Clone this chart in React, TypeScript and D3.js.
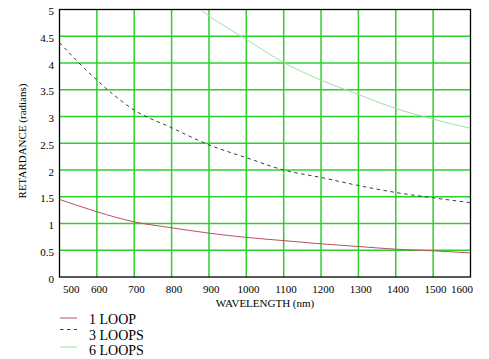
import React from "react";
import * as d3 from "d3";

const wavelengths = [500, 600, 700, 800, 900, 1000, 1100, 1200, 1300, 1400, 1500, 1600];
const loop1 = [1.45, 1.22, 1.03, 0.92, 0.82, 0.74, 0.68, 0.62, 0.57, 0.52, 0.49, 0.45];
const loop3 = [4.38, 3.68, 3.12, 2.79, 2.47, 2.23, 2.0, 1.86, 1.71, 1.58, 1.48, 1.39];
const wavelengths6 = [880, 900, 1000, 1100, 1200, 1300, 1400, 1500, 1600];
const loop6 = [4.98, 4.88, 4.44, 4.01, 3.68, 3.41, 3.15, 2.95, 2.78];

const xTicks = [500, 600, 700, 800, 900, 1000, 1100, 1200, 1300, 1400, 1500, 1600];
const yTicks = [0, 0.5, 1, 1.5, 2, 2.5, 3, 3.5, 4, 4.5, 5];
const legendLabels = ["1 LOOP", "3 LOOPS", "6 LOOPS"];

const W = 489;
const H = 359;
const left = 59.5;
const right = 470.5;
const top = 9.5;
const bottom = 277;
const FONT = "Liberation Serif, Times New Roman, Times, serif";

export default function App() {
  const x = d3.scaleLinear().domain([500, 1600]).range([left, right]);
  const y = d3.scaleLinear().domain([0, 5]).range([bottom, top]);

  const line = d3
    .line<[number, number]>()
    .x((d) => x(d[0]))
    .y((d) => y(d[1]))
    .curve(d3.curveMonotoneX);

  const d1 = line(wavelengths.map((w, i) => [w, loop1[i]] as [number, number])) || "";
  const d3p = line(wavelengths.map((w, i) => [w, loop3[i]] as [number, number])) || "";
  const d6 = line(wavelengths6.map((w, i) => [w, loop6[i]] as [number, number])) || "";

  const gridColor = "#2ccf2c";
  const colors = ["#b85060", "#3a3a4a", "#9fe09f"];
  const dashes = [undefined, "3.5,3.5", undefined];
  const legendY = [318, 329.5, 347];
  const legendTextY = [324, 339.5, 354.5];
  const ts = { fontFamily: FONT };

  return (
    <svg
      width={W}
      height={H}
      style={{ position: "absolute", left: 0, top: 0, background: "#fff", fontFamily: FONT }}
    >
      <defs>
        <clipPath id="plotClip">
          <rect x={left} y={top} width={right - left} height={bottom - top} />
        </clipPath>
      </defs>
      <rect x={0} y={0} width={W} height={H} fill="#fff" />
      {xTicks.slice(1, -1).map((t) => (
        <line key={"gx" + t} x1={x(t)} x2={x(t)} y1={top} y2={bottom} stroke={gridColor} strokeWidth={1.5} />
      ))}
      {yTicks.slice(1, -1).map((t) => (
        <line key={"gy" + t} x1={left} x2={right} y1={y(t)} y2={y(t)} stroke={gridColor} strokeWidth={1.5} />
      ))}
      <rect x={left} y={top} width={right - left} height={bottom - top} fill="none" stroke="#000" strokeWidth={1.3} />
      <g clipPath="url(#plotClip)">
        <path d={d1} fill="none" stroke={colors[0]} strokeWidth={1} />
        <path d={d3p} fill="none" stroke={colors[1]} strokeWidth={1} strokeDasharray={dashes[1]} />
        <path d={d6} fill="none" stroke={colors[2]} strokeWidth={1} />
      </g>
      {yTicks.map((t) => (
        <text key={"yt" + t} x={54} y={y(t) + 5.5} textAnchor="end" fontSize={11} fill="#000" style={ts}>
          {String(t)}
        </text>
      ))}
      {xTicks.map((t, i) => {
        const anchor = i === 0 ? "start" : i === xTicks.length - 1 ? "end" : "middle";
        const off = i === 0 ? 3.5 : i === xTicks.length - 1 ? 2.5 : 2.3;
        return (
          <text key={"xt" + t} x={x(t) + off} y={293} textAnchor={anchor} fontSize={11} fill="#000" style={ts}>
            {String(t)}
          </text>
        );
      })}
      <text x={265} y={307} textAnchor="middle" fontSize={11} fill="#000" style={ts}>
        WAVELENGTH (nm)
      </text>
      <text
        transform={`translate(26,${141}) rotate(-90)`}
        textAnchor="middle"
        fontSize={11}
        fill="#000"
        style={ts}
      >
        RETARDANCE (radians)
      </text>
      {legendLabels.map((lab, i) => (
        <g key={lab}>
          <line x1={60} x2={77} y1={legendY[i]} y2={legendY[i]} stroke={colors[i]} strokeWidth={1} strokeDasharray={dashes[i]} />
          <text x={89} y={legendTextY[i]} fontSize={14} fill="#000" style={ts}>
            {lab}
          </text>
        </g>
      ))}
    </svg>
  );
}
